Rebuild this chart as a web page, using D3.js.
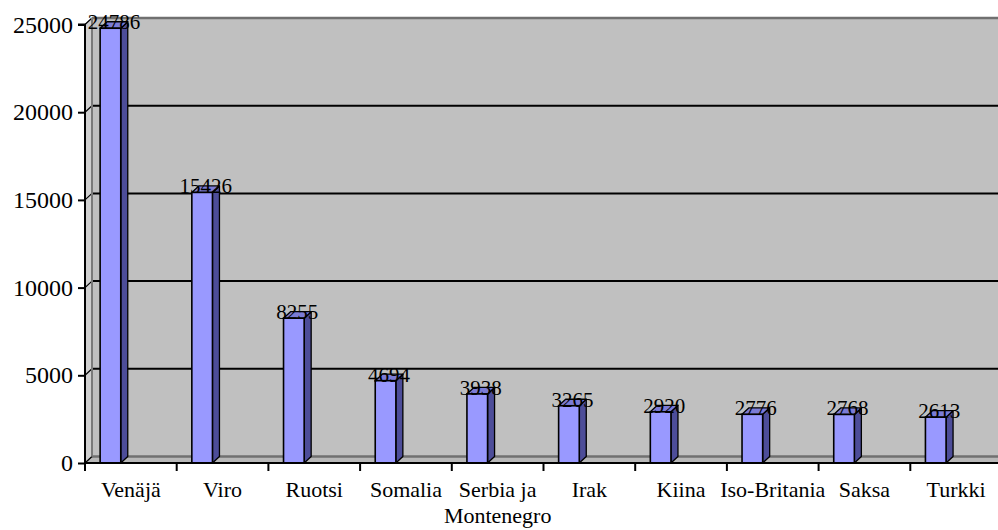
<!DOCTYPE html>
<html>
<head>
<meta charset="utf-8">
<script src="https://cdn.jsdelivr.net/npm/d3@7"></script>
<style>
  html, body { margin: 0; padding: 0; background: #ffffff; }
  svg { display: block; }
  svg text { font-family: "Liberation Serif", "Times New Roman", "DejaVu Serif", serif; }
</style>
</head>
<body>
<svg id="chart" width="998" height="530"></svg>
<script>
// ---- data ----
const categories = ["Venäjä", "Viro", "Ruotsi", "Somalia", "Serbia ja Montenegro", "Irak", "Kiina", "Iso-Britania", "Saksa", "Turkki"];
const values = [24786, 15426, 8255, 4694, 3938, 3265, 2920, 2776, 2768, 2613];
const yTicks = [0, 5000, 10000, 15000, 20000, 25000];
const categoryLines = [["Venäjä"], ["Viro"], ["Ruotsi"], ["Somalia"], ["Serbia ja", "Montenegro"], ["Irak"], ["Kiina"], ["Iso-Britania"], ["Saksa"], ["Turkki"]];

// ---- layout ----
const W = 998, H = 530;
const x0 = 85, y0 = 463, yTop = 24.5;
const dx = 7, dy = -6.5;            // 3D depth offset
const bandW = 91.7;
const font = "Liberation Serif, Times New Roman, DejaVu Serif, serif";

const svg = d3.select("#chart");

const y = d3.scaleLinear().domain([0, 25000]).range([y0, yTop]);
const x = d3.scaleBand().domain(categories).range([x0, x0 + bandW * categories.length]).paddingInner(0).paddingOuter(0);

const barOff = 0.165 * x.bandwidth();
const barW = 0.225 * x.bandwidth();

// back wall
svg.append("rect")
  .attr("x", x0 + dx).attr("y", y(25000) + dy)
  .attr("width", W - (x0 + dx) + 2).attr("height", y(0) - y(25000))
  .attr("fill", "#c0c0c0");

// left wall
svg.append("polygon")
  .attr("points", [[x0, y(0)], [x0, y(25000)], [x0 + dx, y(25000) + dy], [x0 + dx, y(0) + dy]].map(p => p.join(",")).join(" "))
  .attr("fill", "#cfcfcf").attr("stroke", "#8a8a8a").attr("stroke-width", 1);

// floor
svg.append("polygon")
  .attr("points", [[x0, y(0)], [W + 2, y(0)], [W + 2, y(0) + dy], [x0 + dx, y(0) + dy]].map(p => p.join(",")).join(" "))
  .attr("fill", "#b8b8b8").attr("stroke", "#808080").attr("stroke-width", 1);

// gridlines on back wall + diagonals on left wall
yTicks.forEach(v => {
  const yy = y(v);
  const isEdge = (v === 0 || v === 25000);
  svg.append("line")
    .attr("x1", x0 + dx).attr("x2", W + 2)
    .attr("y1", yy + dy).attr("y2", yy + dy)
    .attr("stroke", isEdge ? "#707070" : "#000")
    .attr("stroke-width", isEdge ? 2.5 : 2);
  svg.append("line")
    .attr("x1", x0).attr("y1", yy)
    .attr("x2", x0 + dx).attr("y2", yy + dy)
    .attr("stroke", "#000").attr("stroke-width", 1.2);
});
// back wall left edge
svg.append("line")
  .attr("x1", x0 + dx).attr("x2", x0 + dx)
  .attr("y1", y(25000) + dy).attr("y2", y(0) + dy)
  .attr("stroke", "#7a7a7a").attr("stroke-width", 2);

// bars
const bars = svg.append("g");
categories.forEach((c, i) => {
  const v = values[i];
  const bx = x(c) + barOff;
  const yt = y(v);
  const g = bars.append("g");
  // side
  g.append("polygon")
    .attr("points", [[bx + barW, yt], [bx + barW + dx, yt + dy], [bx + barW + dx, y(0) + dy], [bx + barW, y(0)]].map(p => p.join(",")).join(" "))
    .attr("fill", "#4d4d99").attr("stroke", "#000").attr("stroke-width", 1.3).attr("stroke-linejoin", "round");
  // top
  g.append("polygon")
    .attr("points", [[bx, yt], [bx + barW, yt], [bx + barW + dx, yt + dy], [bx + dx, yt + dy]].map(p => p.join(",")).join(" "))
    .attr("fill", "#7b7bd6").attr("stroke", "#000").attr("stroke-width", 1.3).attr("stroke-linejoin", "round");
  // front
  g.append("rect")
    .attr("x", bx).attr("y", yt).attr("width", barW).attr("height", y(0) - yt)
    .attr("fill", "#9999ff").attr("stroke", "#000").attr("stroke-width", 1.6);
});

// y axis
const yAxis = d3.axisLeft(y).tickValues(yTicks).tickSize(7).tickPadding(5).tickFormat(d3.format("d"));
const ya = svg.append("g").attr("transform", `translate(${x0},0)`).call(yAxis);
ya.attr("font-family", null).attr("font-size", null);
ya.select(".domain").attr("stroke", "#000").attr("stroke-width", 2).attr("d", `M-7,${y(25000)}H0V${y(0)}`);
ya.selectAll(".tick line").attr("stroke", "#000").attr("stroke-width", 2);
ya.selectAll(".tick text").style("font-family", font).style("font-size", "24px").attr("fill", "#000");

// x axis line
svg.append("line")
  .attr("x1", x0).attr("x2", W + 2).attr("y1", y(0)).attr("y2", y(0))
  .attr("stroke", "#000").attr("stroke-width", 2.2);
// x ticks at band boundaries
categories.forEach(c => {
  svg.append("line")
    .attr("x1", x(c)).attr("x2", x(c)).attr("y1", y(0)).attr("y2", y(0) + 8)
    .attr("stroke", "#000").attr("stroke-width", 2);
});
// x labels
categories.forEach((c, i) => {
  const t = svg.append("text")
    .attr("x", x(c) + x.bandwidth() / 2).attr("y", 497)
    .attr("text-anchor", "middle")
    .style("font-family", font).style("font-size", "22px").attr("fill", "#000");
  categoryLines[i].forEach((ln, k) => {
    t.append("tspan").attr("x", x(c) + x.bandwidth() / 2).attr("dy", k === 0 ? 0 : 26).text(ln);
  });
});

// data labels
categories.forEach((c, i) => {
  const bx = x(c) + barOff;
  svg.append("text")
    .attr("x", bx + (barW + dx) / 2).attr("y", y(values[i]) + 1)
    .attr("text-anchor", "middle")
    .style("font-family", font).style("font-size", "21px").attr("fill", "#000")
    .text(values[i]);
});
</script>
</body>
</html>
